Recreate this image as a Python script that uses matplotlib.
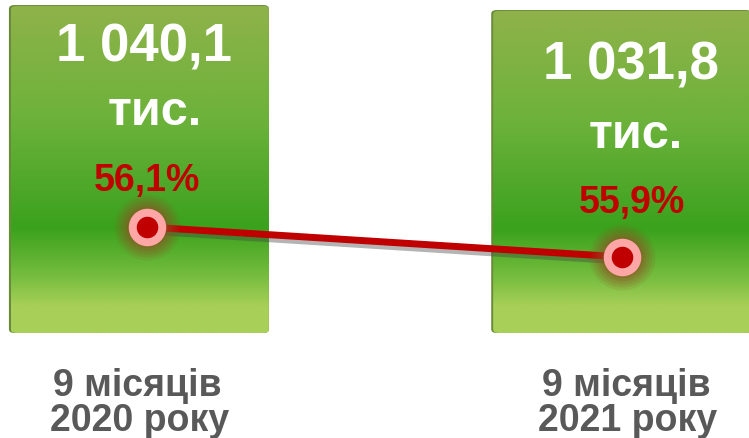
import matplotlib.pyplot as plt
import matplotlib.patheffects as pe
from matplotlib.patches import FancyBboxPatch
from matplotlib.colors import LinearSegmentedColormap
import numpy as np

# data
periods = ['9 місяців', '9 місяців']
years = ['2020 року', '2021 року']
counts = [1040.1, 1031.8]          # тис.
count_labels = ['1 040,1', '1 031,8']
shares = [56.1, 55.9]              # %
share_labels = ['56,1%', '55,9%']

plt.rcParams['font.family'] = ['Liberation Sans', 'DejaVu Sans']

W, H = 749, 439
fig = plt.figure(figsize=(W / 100, H / 100), dpi=100)


def px(xp, yp):
    return xp / W, 1 - yp / H


ax = fig.add_axes([0, 105 / H, 1, 334 / H])
x = np.arange(len(counts))
ax.set_xlim(-0.29, 1.263)
ax.set_ylim(495.5, 1050.1)
ax.axis('off')

# green gradient (top -> bottom)
grad = LinearSegmentedColormap.from_list('g', [
    (0.0, '#8fb24a'), (0.35, '#6cb23a'), (0.58, '#4aa627'),
    (0.68, '#3aa21c'), (0.84, '#7cbf42'), (0.92, '#a8d058'), (1.0, '#a8d058')])
img = np.linspace(0, 1, 256).reshape(-1, 1)

bars = ax.bar(x, counts, width=0.535, bottom=0, color='none')
for b in bars:
    x0, w, top = b.get_x(), b.get_width(), b.get_height()
    bot = 495.5
    shadow = FancyBboxPatch((x0 - 0.004, bot), w + 0.004, top - bot,
                            boxstyle='round,pad=0,rounding_size=0.012',
                            mutation_aspect=500, fc='#6a8a3a', ec='none', zorder=1)
    ax.add_patch(shadow)
    clip = FancyBboxPatch((x0, bot), w, top - bot - 1.5,
                          boxstyle='round,pad=0,rounding_size=0.012',
                          mutation_aspect=500, fc='none', ec='none')
    ax.add_patch(clip)
    im = ax.imshow(img, cmap=grad, aspect='auto', extent=(x0, x0 + w, bot, top),
                   zorder=2, interpolation='bilinear')
    im.set_clip_path(clip)

# labels inside bars (pixel positions: centre x, baseline y)
count_pos = [(144, 62), (631, 80)]
unit_pos = [(155, 125), (636, 148)]
share_pos = [(147, 191), (632, 213)]
for i in range(2):
    fig.text(*px(*count_pos[i]), count_labels[i], color='white', fontsize=38,
             fontweight='bold', ha='center', va='baseline', zorder=5)
    fig.text(*px(*unit_pos[i]), 'тис.', color='white', fontsize=35,
             fontweight='bold', ha='center', va='baseline', zorder=5)

# category labels below
period_pos = [(137, 396), (626, 396)]
year_pos = [(140, 431), (628, 431)]
for i in range(2):
    fig.text(*px(*period_pos[i]), periods[i], color='#595959', fontsize=27,
             fontweight='bold', ha='center', va='baseline')
    fig.text(*px(*year_pos[i]), years[i], color='#595959', fontsize=27,
             fontweight='bold', ha='center', va='baseline')

# share line on its own scale
ax2 = fig.add_axes(ax.get_position())
ax2.set_xlim(-0.3095, 1.267)
ax2.set_ylim(55.393, 57.62)
ax2.axis('off')
ax2.patch.set_visible(False)
ax2.plot(x, shares, color='#c00000', lw=5, zorder=3, solid_capstyle='butt',
         path_effects=[pe.SimpleLineShadow(offset=(1, -3), shadow_color='#444444', alpha=0.4),
                       pe.Normal()])
for s, a in zip([66, 60, 54, 48, 42], [0.12, 0.15, 0.18, 0.22, 0.3]):
    ax2.plot(x, shares, 'o', ms=s * 0.72, color='#8e5224', alpha=a, mec='none', zorder=4)
ax2.plot(x, shares, 'o', ms=27, color='#ffa6a6', mec='none', zorder=5)
ax2.plot(x, shares, 'o', ms=15.5, color='#c00000', mec='none', zorder=6)

for i, lab in enumerate(share_labels):
    fig.text(*px(*share_pos[i]), lab, color='#c00000', fontsize=27,
             fontweight='bold', ha='center', va='baseline', zorder=6)

fig.savefig('out.png', dpi=100)
